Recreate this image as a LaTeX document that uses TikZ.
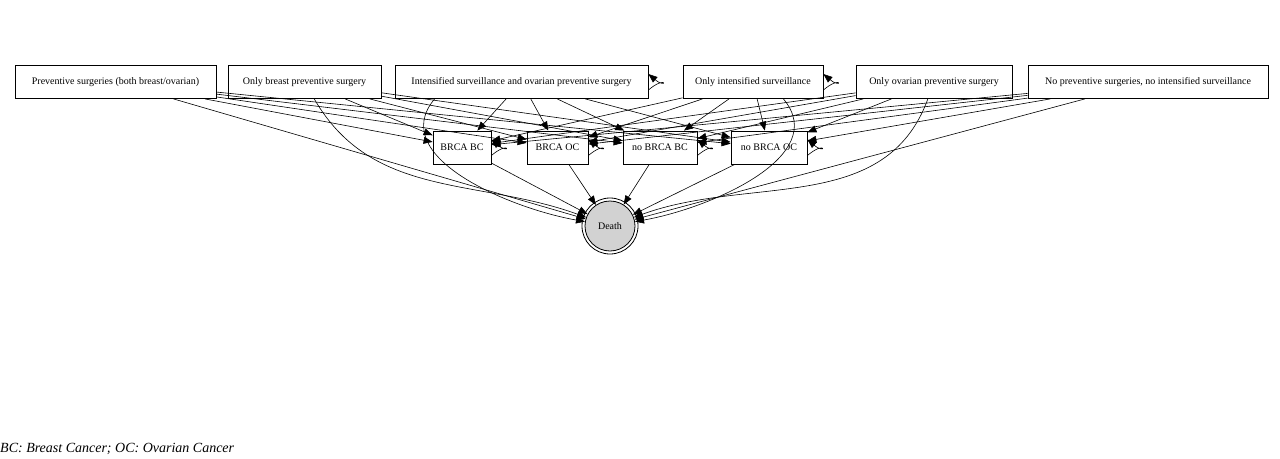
\documentclass[tikz,border=0pt]{standalone}
\usepackage{fontspec}
\setmainfont{Liberation Serif}
\usetikzlibrary{arrows.meta}
\begin{document}
\begin{tikzpicture}[x=1pt,y=-1pt,
  box/.style={draw,thick,inner sep=0pt,minimum height=33pt,font=\fontsize{10}{12}\selectfont},
  ed/.style={-{Triangle[length=9pt,width=7pt]},semithick},
  lp/.style={ed,out=40,in=-40,looseness=4}]
\useasboundingbox (0,0) rectangle (1280,458);
\node[box,minimum width=201pt] (t1) at (115.5,82) {Preventive surgeries (both breast/ovarian)};
\node[box,minimum width=153pt] (t2) at (304.5,82) {Only breast preventive surgery};
\node[box,minimum width=253pt] (t3) at (521.5,82) {Intensified surveillance and ovarian preventive surgery};
\node[box,minimum width=140pt] (t4) at (753,82) {Only intensified surveillance};
\node[box,minimum width=156pt] (t5) at (934,82) {Only ovarian preventive surgery};
\node[box,minimum width=240pt] (t6) at (1148,82) {No preventive surgeries, no intensified surveillance};
\node[box,minimum width=58pt] (m1) at (462,147.5) {BRCA BC};
\node[box,minimum width=61pt] (m2) at (557.5,147.5) {BRCA OC};
\node[box,minimum width=74pt] (m3) at (660,147.5) {no BRCA BC};
\node[box,minimum width=76pt] (m4) at (769,147.5) {no BRCA OC};
\node[circle,draw,thick,fill=gray!35,minimum size=50pt,inner sep=0pt,font=\fontsize{10}{12}\selectfont] (d) at (610,226) {Death};
\draw[thick] (d.center) circle (28);
\foreach \t in {t1,t2,t3,t4,t5,t6}{
  \foreach \m in {m1,m2,m3,m4}{ \draw[ed] (\t) -- (\m); }
}
\foreach \m in {m1,m2,m3,m4}{
  \draw[ed] (\m) -- (d);
  \draw[lp] ([yshift=-8pt]\m.east) to ([yshift=8pt]\m.east);
}
\draw[lp] ([yshift=-8pt]t3.east) to ([yshift=8pt]t3.east);
\draw[lp] ([yshift=-8pt]t4.east) to ([yshift=8pt]t4.east);
\draw[ed] (t1) -- (d);
\draw[ed] (t2) to[out=-60,in=160] (d);
\draw[ed] (t3.south west) ++(40,0) to[out=-130,in=170] (d);
\draw[ed] (t4.south east) ++(-40,0) to[out=-50,in=10] (d);
\draw[ed] (t5) to[out=-110,in=20] (d);
\draw[ed] (t6) -- (d);
\node[anchor=west,inner sep=0pt,font=\fontsize{14}{16}\selectfont\itshape] (cap) at (0,449) {BC: Breast Cancer; OC: Ovarian Cancer};
\end{tikzpicture}
\end{document}
